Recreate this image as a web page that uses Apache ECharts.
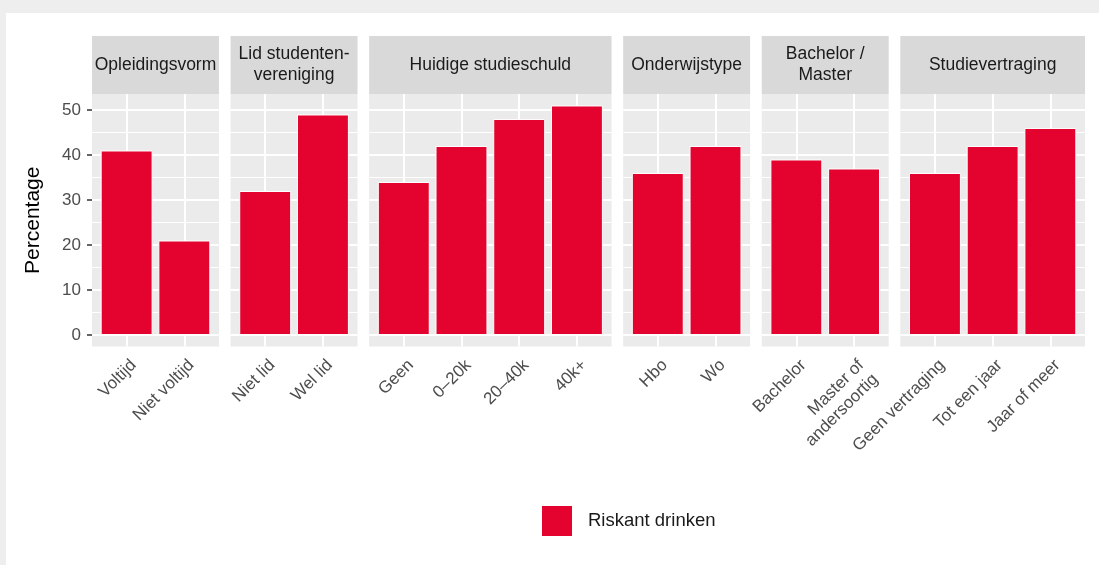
<!DOCTYPE html>
<html>
<head>
<meta charset="utf-8">
<script src="https://cdn.jsdelivr.net/npm/echarts@6/dist/echarts.min.js"></script>
<style>
    html, body { margin: 0; padding: 0; background: #eeeeee; }
    #card { position: absolute; left: 6px; top: 13px; width: 1093px; height: 552px; background: #ffffff; }
    #chart { width: 1093px; height: 552px; }
</style>
</head>
<body>
<div id="card"><div id="chart"></div></div>
<script>
// 数据
var panelTitles = ['Opleidingsvorm', 'Lid studenten-\nvereniging', 'Huidige studieschuld', 'Onderwijstype', 'Bachelor /\nMaster', 'Studievertraging'];
var panelCategories = [
    ['Voltijd', 'Niet voltijd'],
    ['Niet lid', 'Wel lid'],
    ['Geen', '0–20k', '20–40k', '40k+'],
    ['Hbo', 'Wo'],
    ['Bachelor', 'Master of\nandersoortig'],
    ['Geen vertraging', 'Tot een jaar', 'Jaar of meer']
];
var panelValues = [
    [41, 21],
    [32, 49],
    [34, 42, 48, 51],
    [36, 42],
    [39, 37],
    [36, 42, 46]
];
var yTicks = [0, 10, 20, 30, 40, 50];
var yMinorTicks = [5, 15, 25, 35, 45];
var seriesName = 'Riskant drinken';
var yTitle = 'Percentage';

document.addEventListener('DOMContentLoaded', function() {
    var chart = echarts.init(document.getElementById('chart'));

    // 布局（页面坐标，减去白色卡片偏移）
    var OX = 6, OY = 13;
    var panelLeft0 = 92, panelRight = 1085, gap = 11.6;
    var panelTop = 94, panelBottom = 346.5, stripTop = 36;
    var font = '"Liberation Sans", Arial, Helvetica, sans-serif';
    var barColor = '#e4032e';

    var dataMax = Math.max.apply(null, panelValues.map(function(v) { return Math.max.apply(null, v); }));
    var yMin = -dataMax * 0.05, yMax = dataMax * 1.05;

    var units = panelCategories.map(function(c) { return c.length + 0.2; });
    var totalUnits = units.reduce(function(a, b) { return a + b; }, 0);
    var u = (panelRight - panelLeft0 - gap * (units.length - 1)) / totalUnits;

    var grids = [], xAxes = [], yAxes = [], series = [], graphics = [];
    var x = panelLeft0;

    panelCategories.forEach(function(cats, i) {
        var width = units[i] * u;
        var left = x;
        x += width + gap;
        var idx = cats.map(function(c, k) { return k + 1; });

        grids.push({
            left: left - OX, top: panelTop - OY, width: width, height: panelBottom - panelTop,
            show: true, backgroundColor: '#ebebeb', borderWidth: 0
        });

        xAxes.push({
            type: 'value', gridIndex: i, min: 0.4, max: cats.length + 0.6,
            axisLine: { show: false },
            splitLine: { show: false },
            axisTick: { show: true, customValues: idx, length: 5, lineStyle: { color: '#333333', width: 1.5 } },
            axisLabel: {
                customValues: idx, rotate: 45, align: 'right', verticalAlign: 'top', margin: 9,
                color: '#4d4d4d', fontSize: 17, fontFamily: font, lineHeight: 20,
                formatter: function(v) { return cats[Math.round(v) - 1] || ''; }
            }
        });

        yAxes.push({
            type: 'value', gridIndex: i, min: yMin, max: yMax,
            axisLine: { show: false },
            splitLine: { show: false },
            axisTick: { show: i === 0, customValues: yTicks, length: 5, lineStyle: { color: '#333333', width: 1.5 } },
            axisLabel: { show: i === 0, customValues: yTicks, margin: 11, color: '#4d4d4d', fontSize: 17, fontFamily: font }
        });

        // 网格线
        var lines = [];
        yTicks.forEach(function(t) { lines.push({ yAxis: t, lineStyle: { width: 2 } }); });
        yMinorTicks.forEach(function(t) { lines.push({ yAxis: t, lineStyle: { width: 1 } }); });
        idx.forEach(function(t) { lines.push({ xAxis: t, lineStyle: { width: 2 } }); });

        series.push({
            name: seriesName, type: 'bar', xAxisIndex: i, yAxisIndex: i,
            barWidth: 0.9 * u,
            itemStyle: { color: barColor, borderColor: '#ffffff', borderWidth: 1 },
            data: panelValues[i].map(function(v, k) { return [k + 1, v]; }),
            markLine: {
                silent: true, symbol: 'none', z: 1, animation: false,
                label: { show: false },
                lineStyle: { color: '#ffffff', type: 'solid' },
                data: lines
            }
        });

        // 分面标题条
        graphics.push({
            type: 'rect', silent: true,
            shape: { x: left - OX, y: stripTop - OY, width: width, height: panelTop - stripTop },
            style: { fill: '#d9d9d9' }
        });
        graphics.push({
            type: 'text', silent: true,
            x: left - OX + width / 2, y: (stripTop + panelTop) / 2 - OY,
            style: {
                text: panelTitles[i], align: 'center', verticalAlign: 'middle',
                fill: '#1a1a1a', font: '17.5px ' + font, lineHeight: 21
            }
        });
    });

    graphics.push({
        type: 'text', silent: true,
        x: 33 - OX, y: (panelTop + panelBottom) / 2 - OY, rotation: Math.PI / 2,
        style: { text: yTitle, align: 'center', verticalAlign: 'middle', fill: '#000000', font: '21px ' + font }
    });

    var option = {
        animation: false,
        grid: grids,
        xAxis: xAxes,
        yAxis: yAxes,
        series: series,
        graphic: graphics,
        legend: {
            data: [seriesName],
            left: 540 - OX, top: 504 - OY, padding: 0,
            icon: 'rect', itemWidth: 32, itemHeight: 32, itemGap: 10,
            textStyle: { color: '#1a1a1a', fontSize: 18.5, fontFamily: font, padding: [0, 0, 0, 10] }
        }
    };
    chart.setOption(option);
});
</script>
</body>
</html>
